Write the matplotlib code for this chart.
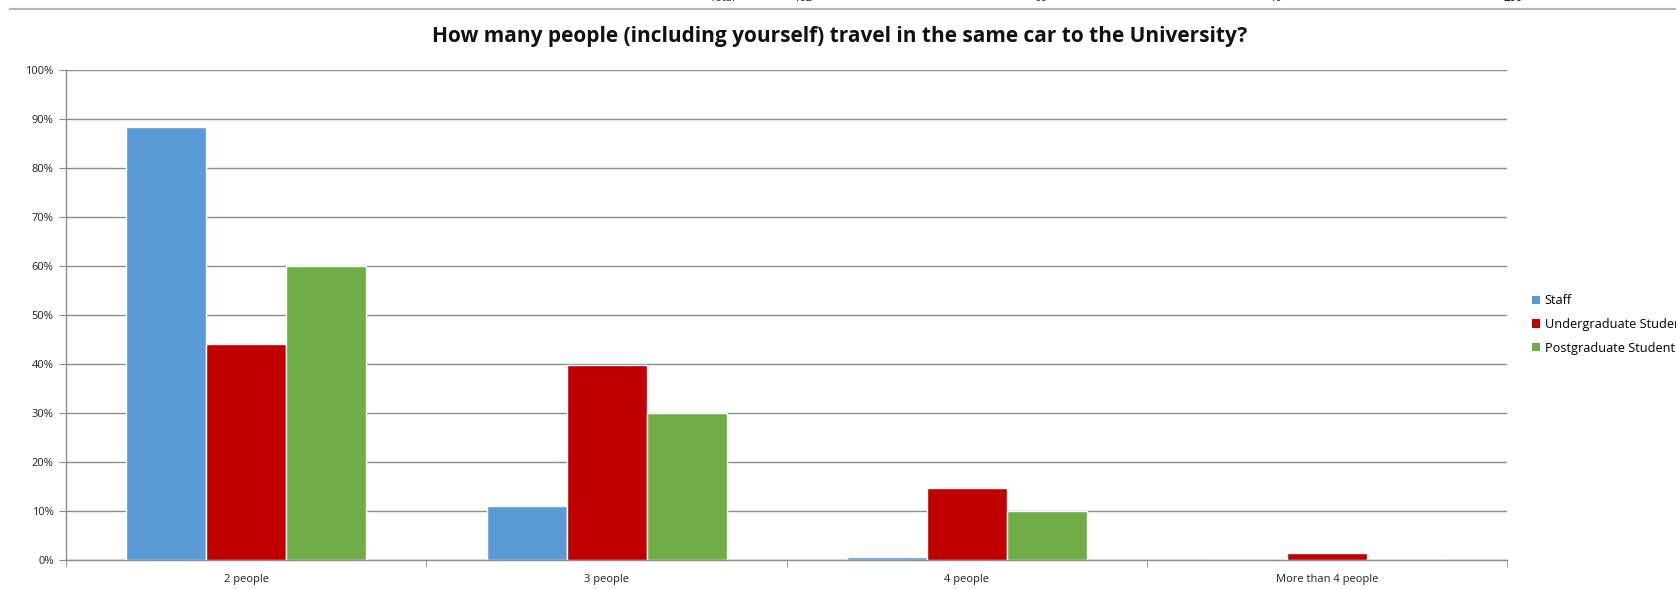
import numpy as np
import matplotlib
matplotlib.use('Agg')
import matplotlib.pyplot as plt
from matplotlib.patches import Patch

plt.rcParams['font.family'] = ['Open Sans', 'DejaVu Sans']

# share of each group by number of people in the car (counts: 162 / 68 / 10)
categories = ['2 people', '3 people', '4 people', 'More than 4 people']
staff = [88.27, 11.11, 0.62, 0.0]
undergrad = [44.12, 39.71, 14.71, 1.47]
postgrad = [60.0, 30.0, 10.0, 0.0]
series_names = ['Staff', 'Undergraduate Student', 'Postgraduate Student']
series_colors = ['#5B9BD5', '#C00000', '#70AD47']

# summary row from the sheet above the chart
total_labels = ['Total', '162', '66', '10', '200']

fig = plt.figure(figsize=(16.76, 5.89), dpi=100)
ax = fig.add_axes([0.0394, 0.0492, 0.8600, 0.8328])

x = np.arange(len(categories))
w = 0.222
for i, (vals, color) in enumerate(zip([staff, undergrad, postgrad], series_colors)):
    ax.bar(x + (i - 1) * w, vals, width=w, color=color,
           edgecolor='white', linewidth=1.0, zorder=3)

ax.set_xlim(-0.5, len(categories) - 0.5)
ax.set_ylim(0, 100)
ax.set_yticks(np.arange(0, 101, 10))
ax.set_yticklabels([f'{v}%' for v in range(0, 101, 10)], fontsize=8, color='#222222')
ax.yaxis.grid(True, color='#8c8c8c', linewidth=1.0, zorder=0)

ax.set_xticks(x)
ax.set_xticklabels(categories, fontsize=8, color='#222222')
ax.set_xticks(np.arange(-0.5, len(categories)), minor=True)
ax.tick_params(axis='x', which='major', length=0, pad=10)
ax.tick_params(axis='x', which='minor', length=5, color='#8c8c8c', direction='out')
ax.tick_params(axis='y', length=5, color='#8c8c8c', direction='out', pad=4)

for s in ['top', 'right']:
    ax.spines[s].set_visible(False)
for s in ['left', 'bottom']:
    ax.spines[s].set_color('#8c8c8c')
    ax.spines[s].set_linewidth(1.0)

fig.text(0.501, 0.938, 'How many people (including yourself) travel in the same car to the University?',
         ha='center', va='center', fontsize=15, fontweight='bold', color='#111111')

handles = [Patch(facecolor=c, edgecolor='none') for c in series_colors]
fig.legend(handles, series_names, loc='center left', bbox_to_anchor=(0.914, 0.449),
           frameon=False, fontsize=9.2, handlelength=0.6, handleheight=0.6,
           handletextpad=0.4, labelspacing=0.85, borderaxespad=0, borderpad=0)

# clipped spreadsheet strip along the top edge
fig.add_artist(plt.Line2D([0.006, 1.0], [0.985, 0.985], transform=fig.transFigure,
                          color='#b4b4b4', linewidth=1.5))
for xpos, txt, bold in zip([0.431, 0.479, 0.621, 0.761, 0.903], total_labels,
                           [False, False, False, False, True]):
    fig.text(xpos, 1.003, txt, ha='center', va='center', fontsize=8,
             fontweight='bold' if bold else 'normal', color='#222222')

fig.savefig('out.png', dpi=100)
